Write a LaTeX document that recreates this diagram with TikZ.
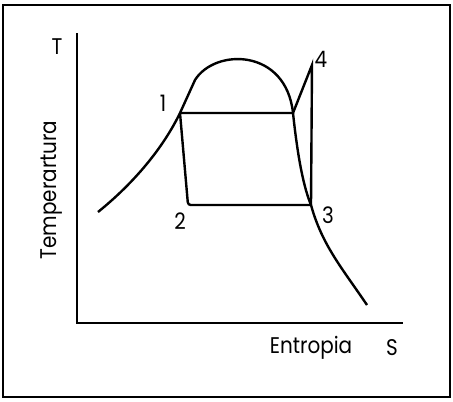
\documentclass[tikz,border=0pt]{standalone}
\usepackage{fontspec}
\setmainfont{Poppins}[FakeStretch=0.88]
\begin{document}
\begin{tikzpicture}[x=0.75pt,y=-0.75pt,line width=1.8pt,
  lbl/.style={font=\fontsize{17}{17}\selectfont,inner sep=0pt}]
\useasboundingbox (0,0) rectangle (453,401);
\draw[line width=1.3pt] (3,5) rectangle (450,397);
% axes
\coordinate (top) at (77,33);
\coordinate (org) at (77,323);
\coordinate (rgt) at (403,323);
\draw (top) -- (org) -- (rgt);
% cycle points
\coordinate (p1) at (180,113);
\coordinate (pv) at (293,113);
\coordinate (p2) at (189,205);
\coordinate (p3) at (311,205);
\coordinate (p4) at (312,65);
% saturation curve
\draw (98,212) .. controls (140,178) and (166,142) .. (p1) -- (195,80)
  .. controls (215,48) and (286,48) .. (pv)
  .. controls (298,160) and (304,188) .. (p3)
  .. controls (322,245) and (342,268) .. (367,305);
% cycle
\draw (p1) -- (pv) -- (p4) -- (p3);
\draw[rounded corners=2pt] (p1) -- (188,205) -- (p3);
% labels
\node[lbl] (n1) at (163,103) {1};
\node[lbl] (n2) at (180,221) {2};
\node[lbl] (n3) at (328,215) {3};
\node[lbl] (n4) at (321,59) {4};
\node[lbl] (T) at (57,47) {T};
\node[lbl,rotate=90] (tlab) at (52,190) {Temperartura};
\node[lbl] (slab) at (311,348) {Entropia};
\node[lbl] (S) at (392,348) {S};
\end{tikzpicture}
\end{document}
